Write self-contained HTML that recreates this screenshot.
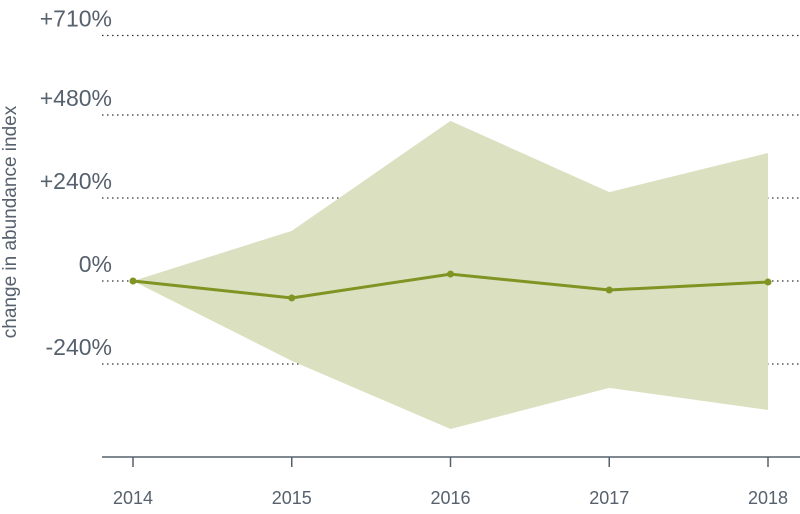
<!DOCTYPE html>
<html><head><meta charset="utf-8"><style>
html,body{margin:0;padding:0;background:#fff;}
svg text{font-family:"Liberation Sans",sans-serif;fill:#56616d;}
</style></head><body>
<svg id="chart" width="800" height="509" viewBox="0 0 800 509">
<g id="grid"></g><g id="band"></g><g id="line"></g><g id="axis"></g>
<text transform="translate(16,222) rotate(-90)" text-anchor="middle" font-size="19">change in abundance index</text>
</svg>
<script>
const years = ["2014","2015","2016","2017","2018"];
const meanVals = [0, -49, 20, -26, -3];
const upperVals = [0, 145, 463, 257, 370];
const lowerVals = [0, -231, -428, -309, -373];
const yTicks = [710, 480, 240, 0, -240];
const yTickLabels = ["+710%","+480%","+240%","0%","-240%"];
const NS="http://www.w3.org/2000/svg";
function xs(i){return 133 + i*(768-133)/(years.length-1);}
function ys(v){return 281 - v*0.3458;}
function mk(tag,attrs,parent){const e=document.createElementNS(NS,tag);for(const k in attrs)e.setAttribute(k,attrs[k]);document.getElementById(parent).appendChild(e);return e;}
yTicks.forEach((t,i)=>{
  const y=ys(t);
  const l=mk('line',{x1:102,x2:800,y1:y,y2:y,stroke:'#333','stroke-width':1.3,'stroke-dasharray':'1.5 3.5'},'grid');
  
  
  const tx=mk('text',{x:112,y:y-9,'text-anchor':'end','font-size':23},'grid');
  tx.textContent=yTickLabels[i];
  
  
});
let pts=years.map((_,i)=>xs(i)+','+ys(upperVals[i]));
for(let i=years.length-1;i>=0;i--)pts.push(xs(i)+','+ys(lowerVals[i]));
const band=mk('polygon',{points:pts.join(' '),fill:'#dbe0c0'},'band');


const pl=mk('polyline',{points:years.map((_,i)=>xs(i)+','+ys(meanVals[i])).join(' '),fill:'none',stroke:'#7f9422','stroke-width':3},'line');


years.forEach((_,i)=>{
  const c=mk('circle',{cx:xs(i),cy:ys(meanVals[i]),r:3.5,fill:'#7f9422'},'line');
  
  
});
const ax=mk('line',{x1:102,x2:800,y1:457,y2:457,stroke:'#56616d','stroke-width':1.5},'axis');


years.forEach((yr,i)=>{
  const t=mk('line',{x1:xs(i),x2:xs(i),y1:457,y2:467,stroke:'#56616d','stroke-width':1.5},'axis');
  
  
  const tx=mk('text',{x:xs(i),y:504,'text-anchor':'middle','font-size':18},'axis');
  tx.textContent=yr;
  
  
});
</script>
</body></html>
